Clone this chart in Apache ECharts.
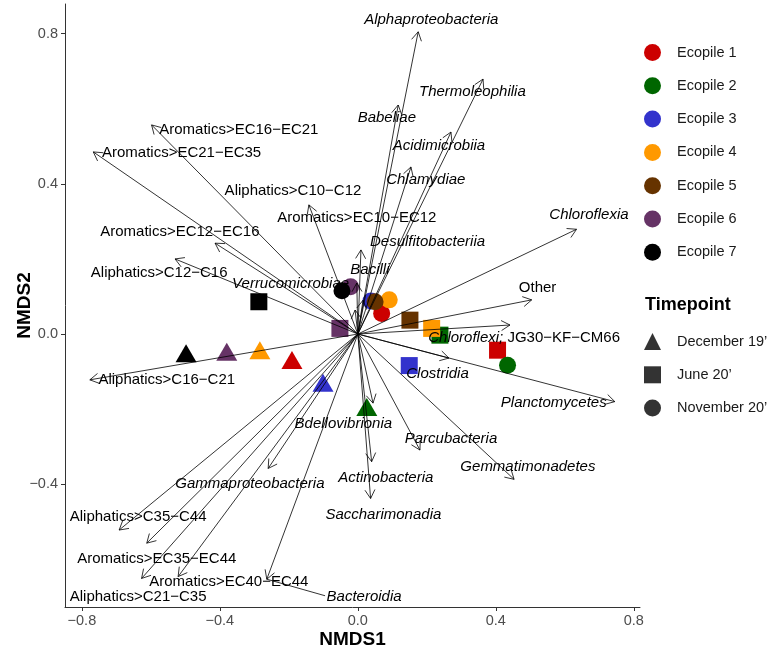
<!DOCTYPE html>
<html>
<head>
<meta charset="utf-8">
<script src="https://cdn.jsdelivr.net/npm/echarts@6/dist/echarts.min.js"></script>
<style>html,body{margin:0;padding:0;background:#fff}#c{width:773px;height:653px}</style>
</head>
<body>
<div id="c"></div>
<script>
// ---- data ----
const ecopiles = ['Ecopile 1','Ecopile 2','Ecopile 3','Ecopile 4','Ecopile 5','Ecopile 6','Ecopile 7'];
const ecoColors = ['#cc0000','#006600','#3333cc','#ff9900','#663300','#663366','#000000'];
const timepoints = ["December 19’","June 20’","November 20’"];
const tpSymbols = ['triangle','rect','circle'];
// NMDS coordinates per timepoint, one entry per ecopile (null = not shown)
const decX = [-0.191, 0.026, -0.101, -0.284, null, -0.380, -0.498];
const decY = [-0.069, -0.194, -0.130, -0.043, null, -0.047, -0.051];
const junX = [0.405, 0.238, 0.149, 0.214, 0.151, -0.052, -0.287];
const junY = [-0.043, -0.003, -0.084, 0.015, 0.037, 0.015, 0.086];
const novX = [0.069, 0.434, 0.038, 0.091, 0.050, -0.021, -0.046];
const novY = [0.055, -0.083, 0.088, 0.091, 0.086, 0.126, 0.115];

// fitted vectors (arrows)
const vecNames = ['Alphaproteobacteria','Thermoleophilia','Babeliae','Acidimicrobiia','Chlamydiae','Chloroflexia','Other','Chloroflexi; JG30−KF−CM66','Clostridia','Planctomycetes','Gemmatimonadetes','Parcubacteria','Actinobacteria','Saccharimonadia','Bdellovibrionia','Bacteroidia','Gammaproteobacteria','Aliphatics>C35−C44','Aromatics>EC35−EC44','Aliphatics>C21−C35','Aromatics>EC40−EC44','Aliphatics>C16−C21','Aliphatics>C12−C16','Aromatics>EC12−EC16','Aromatics>EC21−EC35','Aromatics>EC16−EC21','Aliphatics>C10−C12','Aromatics>EC10−EC12','Desulfitobacteriia','Bacilli','Verrucomicrobiae'];
const vecX = [0.175,0.363,0.117,0.270,0.154,0.634,0.504,0.441,0.264,0.745,0.453,0.180,0.040,0.037,0.044,-0.264,-0.260,-0.692,-0.612,-0.627,-0.521,-0.777,-0.530,-0.414,-0.767,-0.598,-0.142,0.009,0.015,-0.003,-0.008];
const vecY = [0.805,0.679,0.610,0.538,0.445,0.279,0.091,0.024,-0.064,-0.180,-0.387,-0.309,-0.340,-0.438,-0.184,-0.653,-0.358,-0.522,-0.557,-0.651,-0.646,-0.122,0.200,0.242,0.485,0.557,0.344,0.224,0.090,0.136,0.064];
// label positions (repelled)
const labX = [0.213,0.332,0.084,0.235,0.197,0.670,0.521,0.482,0.231,0.568,0.493,0.270,0.081,0.074,-0.042,0.018,-0.313,-0.637,-0.583,-0.637,-0.374,-0.554,-0.576,-0.516,-0.511,-0.345,-0.188,-0.003,0.202,0.035,-0.195];
const labY = [0.838,0.645,0.577,0.501,0.410,0.317,0.123,-0.011,-0.105,-0.183,-0.355,-0.280,-0.382,-0.482,-0.238,-0.701,-0.398,-0.488,-0.599,-0.701,-0.660,-0.123,0.162,0.272,0.482,0.543,0.382,0.310,0.246,0.170,0.135];
// 1 = taxon (italic), 0 = hydrocarbon fraction / other, 2 = mixed
const labStyle = [1,1,1,1,1,1,0,2,1,1,1,1,1,1,1,1,1,0,0,0,0,0,0,0,0,0,0,0,1,1,1];
// repel segment from arrow tip to label edge (Bacteroidia)
const segFrom = [[-0.264,-0.653]];
const segTo = [[-0.095,-0.697]];

const xTicks = [-0.8,-0.4,0.0,0.4,0.8];
const yTicks = [-0.4,0.0,0.4,0.8];

const FONT = 'Liberation Sans, Arial, Helvetica, sans-serif';
const chart = echarts.init(document.getElementById('c'), null, {renderer:'canvas'});

const series = [];
ecopiles.forEach((name, i) => {
  const pts = [];
  if (decX[i] !== null) pts.push([decX[i], decY[i], 0]);
  pts.push([junX[i], junY[i], 1]);
  pts.push([novX[i], novY[i], 2]);
  series.push({
    name: name, type: 'scatter', data: pts, z: 2,
    itemStyle: {color: ecoColors[i], opacity: 1},
    symbol: (v) => tpSymbols[v[2]],
    symbolSize: (v) => v[2] === 0 ? [21, 18] : 17,
    emphasis: {disabled: true}, silent: true
  });
});
timepoints.forEach((tp, k) => {
  series.push({name: tp, type: 'scatter', data: [], symbol: tpSymbols[k], itemStyle: {color: '#000'}});
});

// arrows
series.push({
  type: 'custom', z: 5, silent: true,
  data: vecX.map((x, i) => [x, vecY[i]]),
  renderItem: function (params, api) {
    const p0 = api.coord([0, 0]);
    const p1 = api.coord([api.value(0), api.value(1)]);
    const ang = Math.atan2(p1[1] - p0[1], p1[0] - p0[0]);
    const L = 10, phi = Math.PI / 6;
    const a1 = [p1[0] - L * Math.cos(ang - phi), p1[1] - L * Math.sin(ang - phi)];
    const a2 = [p1[0] - L * Math.cos(ang + phi), p1[1] - L * Math.sin(ang + phi)];
    return {type: 'group', children: [
      {type: 'line', shape: {x1: p0[0], y1: p0[1], x2: p1[0], y2: p1[1]}, style: {stroke: '#000', lineWidth: 0.8}},
      {type: 'polyline', shape: {points: [a1, p1, a2]}, style: {stroke: '#000', lineWidth: 0.8, fill: null}}
    ]};
  }
});
// repel segments
series.push({
  type: 'custom', z: 5, silent: true,
  data: segFrom.map((f, i) => [f[0], f[1], segTo[i][0], segTo[i][1]]),
  renderItem: function (params, api) {
    const a = api.coord([api.value(0), api.value(1)]);
    const b = api.coord([api.value(2), api.value(3)]);
    return {type: 'line', shape: {x1: a[0], y1: a[1], x2: b[0], y2: b[1]}, style: {stroke: '#000', lineWidth: 0.8}};
  }
});
// labels
series.push({
  type: 'custom', z: 10, silent: true,
  data: labX.map((x, i) => [x, labY[i], i]),
  renderItem: function (params, api) {
    const i = api.value(2);
    const p = api.coord([api.value(0), api.value(1)]);
    const st = labStyle[i];
    let style;
    if (st === 2) {
      const parts = vecNames[i].split(' ');
      style = {text: '{it|' + parts[0] + '} ' + parts.slice(1).join(' '), x: p[0], y: p[1], align: 'center', verticalAlign: 'middle',
        font: '15px ' + FONT, fill: '#000', rich: {it: {fontStyle: 'italic', fontSize: 15, fontFamily: FONT, fill: '#000'}}};
    } else {
      style = {text: vecNames[i], x: p[0], y: p[1], align: 'center', verticalAlign: 'middle',
        font: (st === 1 ? 'italic ' : '') + '15px ' + FONT, fill: '#000'};
    }
    return {type: 'text', style: style};
  }
});

const fmt = v => (v < 0 ? '−' : '') + Math.abs(v).toFixed(1);

chart.setOption({
  animation: false,
  backgroundColor: '#fff',
  grid: {left: 65, right: 133, top: 4, bottom: 46, containLabel: false, outerBoundsMode: 'none'},
  xAxis: {
    type: 'value', min: -0.849, max: 0.818,
    name: 'NMDS1', nameLocation: 'middle', nameGap: 23, nameMoveOverlap: false,
    nameTextStyle: {fontFamily: FONT, fontWeight: 'bold', fontSize: 19, color: '#000'},
    axisLine: {show: true, onZero: false, lineStyle: {color: '#333', width: 1}},
    axisTick: {show: true, length: 4, lineStyle: {color: '#333'}, customValues: xTicks},
    axisLabel: {customValues: xTicks, formatter: fmt, color: '#4d4d4d', fontSize: 14.5, fontFamily: FONT, margin: 6},
    splitLine: {show: false}
  },
  yAxis: {
    type: 'value', min: -0.727, max: 0.879,
    name: 'NMDS2', nameLocation: 'middle', nameGap: 31, nameRotate: 90, nameMoveOverlap: false,
    nameTextStyle: {fontFamily: FONT, fontWeight: 'bold', fontSize: 19, color: '#000'},
    axisLine: {show: true, onZero: false, lineStyle: {color: '#333', width: 1}},
    axisTick: {show: true, length: 4, lineStyle: {color: '#333'}, customValues: yTicks},
    axisLabel: {customValues: yTicks, formatter: fmt, color: '#4d4d4d', fontSize: 14.5, fontFamily: FONT, margin: 7},
    splitLine: {show: false}
  },
  legend: [
    {
      data: ecopiles.map(n => ({name: n, icon: 'circle'})),
      orient: 'vertical', left: 644, top: 44, padding: 0,
      itemWidth: 17, itemHeight: 17, itemGap: 16.3, selectedMode: false,
      textStyle: {fontFamily: FONT, fontSize: 14.5, color: '#1a1a1a', padding: [0, 0, 0, 11]}
    },
    {
      data: timepoints.map((n, k) => ({name: n, icon: tpSymbols[k], itemStyle: {color: '#000'}})),
      orient: 'vertical', left: 644, top: 333, padding: 0,
      itemWidth: 17, itemHeight: 17, itemGap: 16.3, selectedMode: false,
      textStyle: {fontFamily: FONT, fontSize: 14.5, color: '#1a1a1a', padding: [0, 0, 0, 11]}
    }
  ],
  graphic: [
    {type: 'text', left: 645, top: 296, style: {text: 'Timepoint', font: 'bold 18px ' + FONT, fill: '#000'}}
  ],
  series: series
});
</script>
</body>
</html>
